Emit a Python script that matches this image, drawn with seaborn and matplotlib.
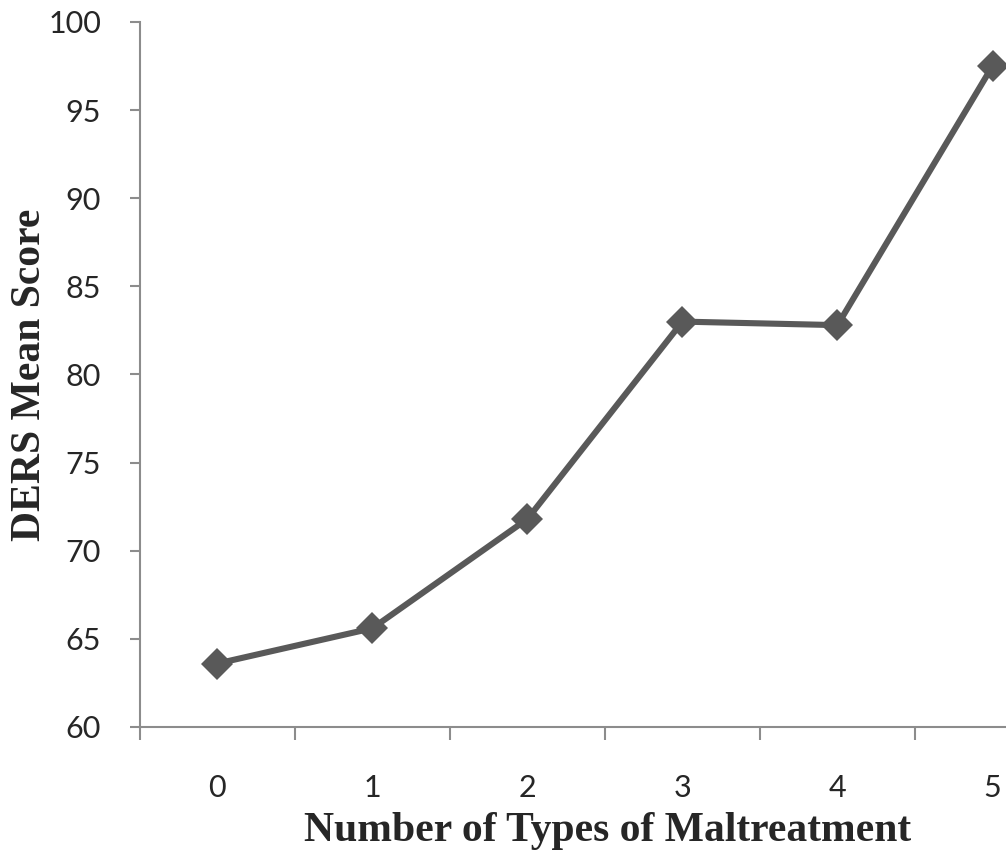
import numpy as np
import pandas as pd
import matplotlib
matplotlib.use("Agg")
import matplotlib.pyplot as plt
import seaborn as sns
from matplotlib.ticker import FixedLocator

# values
maltreatment_types = [0, 1, 2, 3, 4, 5]
ders_mean_scores = [63.6, 65.6, 71.8, 83.0, 82.8, 97.5]
y_ticks = [60, 65, 70, 75, 80, 85, 90, 95, 100]

df = pd.DataFrame({"types": maltreatment_types, "score": ders_mean_scores})

sns.set_style("white")
plt.rcParams["font.family"] = ["Lato", "DejaVu Sans"]

fig = plt.figure(figsize=(10.06, 8.59), dpi=100)
ax = fig.add_axes([0.139, 0.1537, 0.861, 0.8207])

sns.lineplot(data=df, x="types", y="score", ax=ax, color="#595959",
             linewidth=4.4, marker="D", markersize=16, markeredgewidth=0,
             markerfacecolor="#595959")

ax.set_xlim(-0.5, 5.087)
ax.set_ylim(60, 100)
ax.set_yticks(y_ticks)
ax.set_xticks(maltreatment_types)
ax.set_xticklabels([str(t) for t in maltreatment_types])
ax.xaxis.set_minor_locator(FixedLocator(np.arange(-0.5, 5.0, 1.0)))

for side in ["top", "right"]:
    ax.spines[side].set_visible(False)
for side in ["left", "bottom"]:
    ax.spines[side].set_color("#8c8c8c")
    ax.spines[side].set_linewidth(1.5)

ax.tick_params(axis="x", which="major", bottom=True, length=0, pad=34,
               labelsize=22, colors="#262626")
ax.tick_params(axis="x", which="minor", bottom=True, length=9, width=1.5,
               color="#8c8c8c", direction="out")
ax.tick_params(axis="y", which="major", left=True, length=7, width=1.5,
               color="#8c8c8c", direction="out", pad=21, labelsize=22,
               labelcolor="#262626")

title_font = {"family": "Liberation Serif", "weight": "bold", "size": 30}
ax.set_xlabel("Number of Types of Maltreatment", fontdict=title_font, va="center")
ax.set_ylabel("DERS Mean Score", fontdict=title_font, va="center")
ax.xaxis.set_label_coords(0.54, -0.148)
ax.yaxis.set_label_coords(-0.127, 0.5)

fig.savefig("out.png", dpi=100)
